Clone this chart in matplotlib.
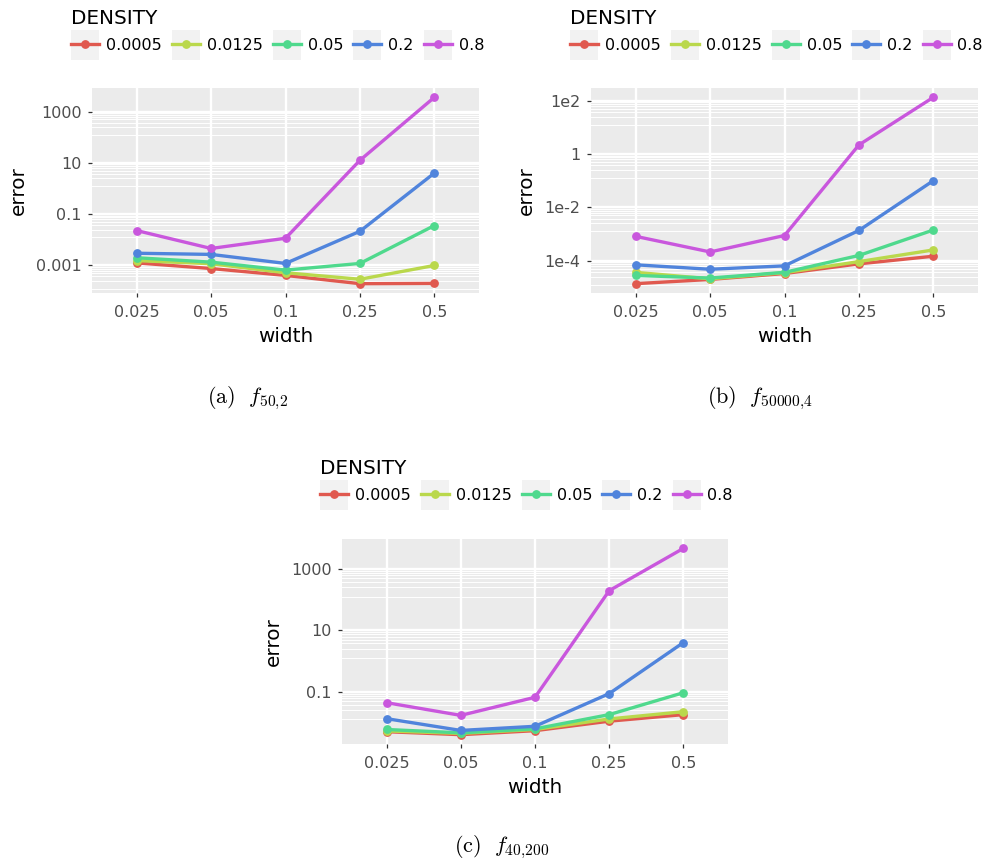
import numpy as np
import matplotlib
matplotlib.use("Agg")
import matplotlib.pyplot as plt
from matplotlib.patches import Rectangle
from matplotlib.lines import Line2D
from matplotlib.ticker import NullFormatter
from matplotlib.transforms import Affine2D

plt.rcParams['mathtext.fontset'] = 'cm'

# --- data: error per density (rows) and width (columns) ---
widths = ["0.025", "0.05", "0.1", "0.25", "0.5"]
densities = ["0.0005", "0.0125", "0.05", "0.2", "0.8"]
colors = ["#E0594F", "#BAD84C", "#4FD98D", "#5084DC", "#C957DD"]

err_a = [
    [0.00126, 0.00076, 0.00041, 0.000195, 0.0002],
    [0.00155, 0.00117, 0.00052, 0.00029, 0.001],
    [0.002, 0.00135, 0.00066, 0.0012, 0.036],
    [0.003, 0.0027, 0.0012, 0.0215, 4.0],
    [0.023, 0.0046, 0.0115, 12.6, 3600],
]
err_b = [
    [1.35e-5, 1.95e-5, 3.25e-5, 7.5e-5, 1.45e-4],
    [3.6e-5, 2.05e-5, 3.5e-5, 9.1e-5, 2.5e-4],
    [2.75e-5, 2.2e-5, 3.6e-5, 1.55e-4, 1.4e-3],
    [6.9e-5, 4.7e-5, 6.3e-5, 1.35e-3, 0.1],
    [8.1e-4, 2.1e-4, 8.7e-4, 2.2, 135],
]
err_c = [
    [0.005, 0.004, 0.0054, 0.011, 0.018],
    [0.0053, 0.0044, 0.0059, 0.013, 0.0224],
    [0.0059, 0.0046, 0.0062, 0.018, 0.093],
    [0.0133, 0.0055, 0.0075, 0.087, 4.0],
    [0.044, 0.017, 0.066, 195, 4650],
]

ticks_a = [1e-3, 1e-1, 1e1, 1e3]
labels_a = ["0.001", "0.1", "10", "1000"]
ticks_b = [1e-4, 1e-2, 1, 1e2]
labels_b = ["1e-4", "1e-2", "1", "1e2"]
ticks_c = [1e-1, 1e1, 1e3]
labels_c = ["0.1", "10", "1000"]

W, H = 994, 865
fig = plt.figure(figsize=(W / 100, H / 100), dpi=100)
renderer = fig.canvas.get_renderer()
# pixel coordinates measured from the top-left corner
px = Affine2D().scale(1, -1).translate(0, H)


def frame(left, top, right, bottom):
    return [left / W, 1 - bottom / H, (right - left) / W, (bottom - top) / H]


def draw_panel(ax, errors, majors, labels):
    ax.set_facecolor('#EBEBEB')
    x = np.arange(len(widths))
    for row, c in zip(errors, colors):
        ax.plot(x, row, color=c, lw=2.4, marker='o', ms=5.3, zorder=3)
    ax.set_yscale('log')

    # 5% expansion in log space
    logs = np.log10(np.concatenate(errors))
    lo, hi = logs.min(), logs.max()
    pad = 0.05 * (hi - lo)
    ax.set_ylim(10 ** (lo - pad), 10 ** (hi + pad))
    ax.set_xlim(-0.6, len(widths) - 0.4)

    ax.set_xticks(x, widths)
    ax.set_yticks(majors, labels)
    minors = [m * k / 8 for m in majors for k in range(1, 8)]
    ax.set_yticks(minors, minor=True)
    ax.yaxis.set_minor_formatter(NullFormatter())
    ax.tick_params(which='minor', length=0)

    ax.grid(which='major', color='white', lw=1.7)
    ax.grid(which='minor', axis='y', color='white', lw=0.7)
    ax.set_axisbelow(True)
    for s in ax.spines.values():
        s.set_visible(False)
    ax.tick_params(which='major', length=3, width=0.9, color='#333333',
                   labelsize=11.5, labelcolor='#4D4D4D')
    ax.tick_params(axis='x', pad=5.5)
    ax.tick_params(axis='y', pad=4.5)
    ax.set_xlabel('width', fontsize=14.4, labelpad=5)
    ax.set_ylabel('error', fontsize=14.4, labelpad=6)


def add_legend(left, top):
    # title, then one row of grey keys with a line and a dot
    fig.text(left, top + 8, 'DENSITY', transform=px, fontsize=14.4,
             ha='left', va='center')
    y0, key_w, key_h = top + 20, 28, 30
    cx = left
    for lab, c in zip(densities, colors):
        fig.add_artist(Rectangle((cx, y0 + key_h), key_w, -key_h,
                                 transform=px, fc='#F2F2F2', ec='none'))
        fig.add_artist(Line2D([cx, cx + key_w], [y0 + 14, y0 + 14],
                              transform=px, color=c, lw=2.4))
        fig.add_artist(Line2D([cx + key_w / 2], [y0 + 14], transform=px,
                              color=c, marker='o', ms=5.3, lw=0))
        t = fig.text(cx + key_w + 7, y0 + 14, lab, transform=px,
                     fontsize=11.5, ha='left', va='center_baseline')
        cx += key_w + 7 + t.get_window_extent(renderer).width + 10


ax_a = fig.add_axes(frame(92, 88, 479, 293))
draw_panel(ax_a, err_a, ticks_a, labels_a)
add_legend(71, 10)

ax_b = fig.add_axes(frame(591, 88, 978, 293))
draw_panel(ax_b, err_b, ticks_b, labels_b)
add_legend(570, 10)

ax_c = fig.add_axes(frame(342, 539, 728, 744))
draw_panel(ax_c, err_c, ticks_c, labels_c)
add_legend(320, 460)

# subfigure captions
fig.text(248 / W, 1 - 398 / H, r'$\mathrm{(a)}\ \ f_{50{,}2}$',
         ha='center', va='center', fontsize=16)
fig.text(760 / W, 1 - 398 / H, r'$\mathrm{(b)}\ \ f_{50000{,}4}$',
         ha='center', va='center', fontsize=16)
fig.text(502 / W, 1 - 847 / H, r'$\mathrm{(c)}\ \ f_{40{,}200}$',
         ha='center', va='center', fontsize=16)

fig.savefig('out.png', dpi=100)
plt.close(fig)
